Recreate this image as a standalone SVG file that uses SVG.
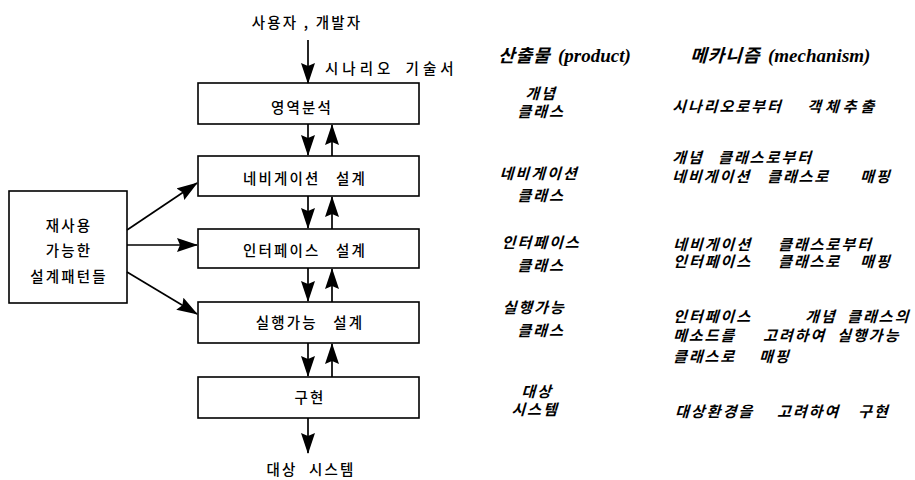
<svg xmlns="http://www.w3.org/2000/svg" width="915" height="480" viewBox="0 0 915 480">
<defs>
<marker id="ah" markerUnits="userSpaceOnUse" markerWidth="22" markerHeight="16" refX="20" refY="7" orient="auto">
<path d="M0,0 L21,7 L0,14 L3,7 z" fill="#000"/>
</marker>
<style>
.box{fill:#fff;stroke:#000;stroke-width:1.6}
.t{font-family:"Noto Sans CJK KR","Liberation Sans",sans-serif;font-size:14.5px;font-weight:500;fill:#000;letter-spacing:2.2px;word-spacing:10px}
.c{text-anchor:middle}
.i{font-family:"Noto Sans CJK KR","Liberation Sans",sans-serif;font-size:15px;font-weight:bold;fill:#000;letter-spacing:2px}
.h{font-family:"Noto Sans CJK KR","Liberation Sans",sans-serif;font-size:18px;font-weight:bold;fill:#000;letter-spacing:1px}
.e{font-family:"Liberation Serif",serif;font-size:19px;font-weight:bold;font-style:italic;fill:#000}
.ln{stroke:#000;stroke-width:1.7;fill:none;marker-end:url(#ah)}
</style>
</defs>
<g id="label-top"><text class="t c" x="307" y="28" style="word-spacing:0">사용자 , 개발자</text></g>
<g id="label-scenario"><text class="t" x="325" y="74" style="word-spacing:4px;letter-spacing:4px">시나리오 기술서</text></g>
<g id="n1"><rect class="box" x="198" y="83" width="221" height="41"/><text class="t c" x="302" y="113">영역분석</text></g>
<g id="n2"><rect class="box" x="198" y="156" width="221" height="40"/><text class="t c" x="305" y="184">네비게이션 설계</text></g>
<g id="n3"><rect class="box" x="198" y="229" width="221" height="39"/><text class="t c" x="305" y="256">인터페이스 설계</text></g>
<g id="n4"><rect class="box" x="198" y="302" width="221" height="41"/><text class="t c" x="310" y="328">실행가능 설계</text></g>
<g id="n5"><rect class="box" x="198" y="377" width="221" height="41"/><text class="t c" x="310" y="403">구현</text></g>
<g id="patterns"><rect class="box" x="9" y="191" width="118" height="112"/>
<text class="t c" x="69" y="231">재사용</text>
<text class="t c" x="69" y="256">가능한</text>
<text class="t c" x="69" y="282">설계패턴들</text></g>
<g id="label-bottom"><text class="t c" x="311" y="475" style="word-spacing:6px">대상 시스템</text></g>
<g id="connectors">
<line class="ln" x1="308" y1="40" x2="308" y2="83"/>
<line class="ln" x1="308" y1="124" x2="308" y2="155"/>
<line class="ln" x1="332" y1="156" x2="332" y2="125"/>
<line class="ln" x1="308" y1="196" x2="308" y2="228"/>
<line class="ln" x1="332" y1="229" x2="332" y2="197"/>
<line class="ln" x1="308" y1="268" x2="308" y2="301"/>
<line class="ln" x1="332" y1="302" x2="332" y2="269"/>
<line class="ln" x1="308" y1="343" x2="308" y2="376"/>
<line class="ln" x1="332" y1="377" x2="332" y2="344"/>
<line class="ln" x1="308" y1="418" x2="308" y2="453"/>
<line class="ln" x1="127" y1="230" x2="197" y2="183"/>
<line class="ln" x1="127" y1="245" x2="197" y2="245"/>
<line class="ln" x1="127" y1="272" x2="197" y2="314"/>
</g>
<g id="headers">
<text class="h" transform="translate(0,62) skewX(-16)" x="498" y="0">산출물</text>
<text class="e" x="558" y="62">(product)</text>
<text class="h" transform="translate(0,62) skewX(-16)" x="690" y="0">메카니즘</text>
<text class="e" x="768" y="62">(mechanism)</text>
</g>
<g id="products">
<text class="i c" transform="translate(0,99) skewX(-16)" x="541" y="0">개념</text>
<text class="i c" transform="translate(0,117) skewX(-16)" x="541" y="0">클래스</text>
<text class="i c" transform="translate(0,179) skewX(-16)" x="539" y="0">네비게이션</text>
<text class="i c" transform="translate(0,201) skewX(-16)" x="541" y="0">클래스</text>
<text class="i c" transform="translate(0,248) skewX(-16)" x="541" y="0">인터페이스</text>
<text class="i c" transform="translate(0,271) skewX(-16)" x="541" y="0">클래스</text>
<text class="i c" transform="translate(0,313) skewX(-16)" x="534" y="0">실행가능</text>
<text class="i c" transform="translate(0,336) skewX(-16)" x="541" y="0">클래스</text>
<text class="i c" transform="translate(0,397) skewX(-16)" x="537" y="0">대상</text>
<text class="i c" transform="translate(0,415) skewX(-16)" x="535" y="0">시스템</text>
</g>
<g id="mechanisms">
<text class="i" transform="translate(0,112) skewX(-16)"><tspan x="672" y="0">시나리오로부터</tspan><tspan x="807" y="0" style="letter-spacing:4px">객체추출</tspan></text>
<text class="i" transform="translate(0,163) skewX(-16)"><tspan x="672" y="0">개념</tspan><tspan x="718" y="0">클래스로부터</tspan></text>
<text class="i" transform="translate(0,182) skewX(-16)"><tspan x="672" y="0">네비게이션</tspan><tspan x="767" y="0">클래스로</tspan><tspan x="860" y="0">매핑</tspan></text>
<text class="i" transform="translate(0,250) skewX(-16)"><tspan x="673" y="0">네비게이션</tspan><tspan x="778" y="0">클래스로부터</tspan></text>
<text class="i" transform="translate(0,267) skewX(-16)"><tspan x="673" y="0">인터페이스</tspan><tspan x="778" y="0">클래스로</tspan><tspan x="860" y="0">매핑</tspan></text>
<text class="i" transform="translate(0,322) skewX(-16)"><tspan x="673" y="0">인터페이스</tspan><tspan x="805" y="0">개념</tspan><tspan x="847" y="0">클래스의</tspan></text>
<text class="i" transform="translate(0,341) skewX(-16)"><tspan x="673" y="0">메소드를</tspan><tspan x="763" y="0">고려하여</tspan><tspan x="837" y="0">실행가능</tspan></text>
<text class="i" transform="translate(0,362) skewX(-16)"><tspan x="673" y="0">클래스로</tspan><tspan x="759" y="0">매핑</tspan></text>
<text class="i" transform="translate(0,417) skewX(-16)"><tspan x="675" y="0">대상환경을</tspan><tspan x="777" y="0">고려하여</tspan><tspan x="858" y="0">구현</tspan></text>
</g>
</svg>
